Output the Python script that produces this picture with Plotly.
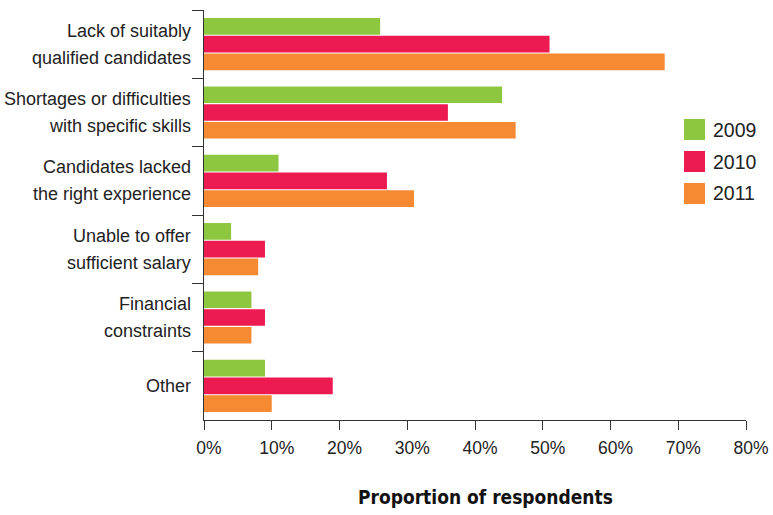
import plotly.graph_objects as go

categories = [
    "Lack of suitably<br>qualified candidates",
    "Shortages or difficulties<br>with specific skills",
    "Candidates lacked<br>the right experience",
    "Unable to offer<br>sufficient salary",
    "Financial<br>constraints",
    "Other",
]
years = ["2009", "2010", "2011"]
v2009 = [26, 44, 11, 4, 7, 9]
v2010 = [51, 36, 27, 9, 9, 19]
v2011 = [68, 46, 31, 8, 7, 10]
x_ticks = [0, 10, 20, 30, 40, 50, 60, 70, 80]

colors = ["#8DC63F", "#EC1A50", "#F68A33"]
series = [v2009, v2010, v2011]

fig = go.Figure()
for name, vals, col in zip(years, series, colors):
    fig.add_trace(go.Bar(
        y=categories, x=vals, name=name, orientation="h",
        marker=dict(color=col, line=dict(width=0)),
        showlegend=False,
    ))

W, H = 773, 515
L, R, T, B = 204, 27, 10, 95
pw, ph = W - L - R, H - T - B

def px_x(p):
    return (p - L) / pw

def px_y(p):
    return 1 - (p - T) / ph

FONT = "Liberation Sans, Arial, sans-serif"

# category labels (two lines with wider line spacing)
for cat in categories:
    lines = cat.split("<br>")
    if len(lines) == 1:
        shifts = [0]
    else:
        shifts = [13.5, -13.5]
    for line, sh in zip(lines, shifts):
        fig.add_annotation(xref="paper", yref="y", x=px_x(193), y=cat,
                           text=line, showarrow=False, xanchor="right", yanchor="middle",
                           yshift=sh, font=dict(size=18, color="#222", family=FONT))

# manual legend
leg_tops = [119, 151, 183]
for name, col, top in zip(years, colors, leg_tops):
    fig.add_shape(type="rect", xref="paper", yref="paper",
                  x0=px_x(684), x1=px_x(705), y0=px_y(top + 21), y1=px_y(top),
                  fillcolor=col, line=dict(width=0))
    fig.add_annotation(xref="paper", yref="paper", x=px_x(711), y=px_y(top + 10.5),
                       text=name, showarrow=False, xanchor="left", yanchor="middle",
                       font=dict(size=19.5, color="#222", family=FONT))

fig.add_annotation(xref="paper", yref="paper", x=px_x(486), y=px_y(497),
                   text="<b>Proportion of respondents</b>", showarrow=False,
                   xanchor="center", yanchor="middle",
                   font=dict(size=19, color="#111",
                             family="Liberation Sans Narrow, DejaVu Sans Condensed, Arial Narrow, sans-serif"))

fig.update_layout(
    width=W, height=H,
    margin=dict(l=L, r=R, t=T, b=B, autoexpand=False),
    paper_bgcolor="white", plot_bgcolor="white",
    barmode="group", bargap=0.22, bargroupgap=0.06,
    font=dict(family=FONT, size=17, color="#222"),
)
fig.update_xaxes(
    range=[0, 80], tickvals=x_ticks, ticktext=[f"{t}%" for t in x_ticks],
    showgrid=False, zeroline=False, showline=True, linecolor="#333", linewidth=1,
    ticks="outside", ticklen=9, tickcolor="#333", tickfont=dict(size=17.5, color="#222"),
    ticklabelshift=5, ticklabelstandoff=3, automargin=False,
)
fig.update_yaxes(
    autorange="reversed", showgrid=False, zeroline=False,
    showline=True, linecolor="#333", linewidth=1,
    ticks="outside", tickson="boundaries", ticklen=11, tickcolor="#333",
    showticklabels=False, automargin=False,
)

fig.write_html("out.html")
